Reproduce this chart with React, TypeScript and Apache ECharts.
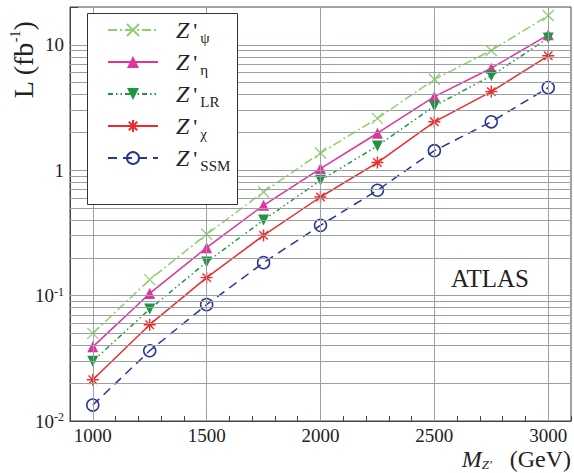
import React, { useEffect, useRef } from 'react';
import * as echarts from 'echarts';

// ---- data ----
const masses = [1000, 1250, 1500, 1750, 2000, 2250, 2500, 2750, 3000];
const zPsi = [0.05, 0.134, 0.308, 0.67, 1.37, 2.59, 5.3, 9.0, 17.1];
const zEta = [0.039, 0.104, 0.241, 0.525, 1.03, 1.97, 3.86, 6.5, 12.0];
const zLR = [0.03, 0.078, 0.185, 0.4, 0.83, 1.56, 3.25, 5.65, 11.3];
const zChi = [0.0213, 0.0586, 0.139, 0.302, 0.611, 1.15, 2.43, 4.23, 8.17];
const zSSM = [0.0134, 0.0363, 0.0847, 0.183, 0.363, 0.692, 1.43, 2.43, 4.55];

const seriesNames = ["Z'ψ", "Z'η", "Z'LR", "Z'χ", "Z'SSM"];
const seriesSubs = ['ψ', 'η', 'LR', 'χ', 'SSM'];

const xGridValues = [1000, 1500, 2000, 2500, 3000];
const yGridValues = [
  0.02, 0.03, 0.04, 0.05, 0.06, 0.07, 0.08, 0.09, 0.1,
  0.2, 0.3, 0.4, 0.5, 0.6, 0.7, 0.8, 0.9, 1,
  2, 3, 4, 5, 6, 7, 8, 9, 10,
];

const FONT = 'Liberation Serif';
const GRID_COLOR = '#9aa0a6';
const AXIS_COLOR = '#444';
const TEXT = '#222';

const CROSS = 'path://M0,0L10,10M10,0L0,10';
const STAR = 'path://M5,0L5,10M0,5L10,5M1.5,1.5L8.5,8.5M8.5,1.5L1.5,8.5';

function pairs(ys: number[]) {
  return masses.map((m, i) => [m, ys[i]]);
}

export default function App() {
  const ref = useRef<HTMLDivElement>(null);

  useEffect(() => {
    if (!ref.current) return;
    const chart = echarts.init(ref.current, null, { renderer: 'svg' });

    const colors = {
      psi: '#8fcf6d',
      eta: '#e0339b',
      lr: '#1e9641',
      chi: '#ee2b2b',
      ssm: '#2b3592',
    };

    const subRich = {
      z: { fontFamily: FONT, fontStyle: 'italic', fontSize: 24, lineHeight: 30, color: TEXT, padding: [0, 0, 0, 13] },
      p: { fontFamily: FONT, fontSize: 22, lineHeight: 30, color: TEXT, padding: [0, 3, 0, 4] },
      s: { fontFamily: FONT, fontSize: 15, lineHeight: 14, color: TEXT, verticalAlign: 'bottom' },
    };

    const option: any = {
      animation: false,
      backgroundColor: '#fff',
      textStyle: { fontFamily: FONT },
      grid: {
        left: 70,
        right: 3,
        top: 7,
        bottom: 52,
        show: true,
        borderColor: AXIS_COLOR,
        borderWidth: 1,
      },
      xAxis: {
        type: 'value',
        min: 900,
        max: 3100,
        interval: 100,
        axisLine: { show: true, lineStyle: { color: AXIS_COLOR } },
        axisTick: { show: true, inside: true, length: 5, lineStyle: { color: AXIS_COLOR } },
        splitLine: { show: false },
        axisLabel: {
          margin: 5,
          fontFamily: FONT,
          fontSize: 19,
          lineHeight: 19,
          color: TEXT,
          formatter: (v: number) => (v % 500 === 0 ? String(v) : ''),
        },
      },
      yAxis: {
        type: 'log',
        logBase: 10,
        min: 0.01,
        max: 20,
        axisLine: { show: true, lineStyle: { color: AXIS_COLOR } },
        axisTick: { show: true, inside: true, length: 8, lineStyle: { color: AXIS_COLOR } },
        splitLine: { show: false },
        axisLabel: {
          margin: 6,
          fontFamily: FONT,
          fontSize: 19,
          color: TEXT,
          formatter: (v: number) => {
            const l = Math.log10(v);
            if (Math.abs(l - Math.round(l)) > 1e-6) return '';
            const e = Math.round(l);
            if (e === 0) return '1';
            if (e === 1) return '10';
            return '{b|10}{sup|' + e + '}';
          },
          rich: {
            b: { fontFamily: FONT, fontSize: 19, lineHeight: 20, color: TEXT },
            sup: { fontFamily: FONT, fontSize: 12, verticalAlign: 'top', lineHeight: 12, color: TEXT },
          },
        },
      },
      legend: {
        show: true,
        orient: 'vertical',
        left: 107,
        top: 18,
        itemWidth: 50,
        itemHeight: 15,
        itemGap: 5,
        padding: 0,
        z: 20,
        selectedMode: false,
        data: seriesNames,
        formatter: (name: string) => {
          const i = seriesNames.indexOf(name);
          return "{z|Z}{p|'}{s|" + seriesSubs[i] + '}';
        },
        textStyle: { fontFamily: FONT, rich: subRich },
      },
      graphic: [
        {
          type: 'rect',
          z: 10,
          shape: { x: 87.5, y: 13.5, width: 150, height: 191 },
          style: { fill: '#fff', stroke: '#333', lineWidth: 1 },
        },
        {
          type: 'text',
          z: 10,
          x: 490,
          y: 278,
          style: {
            text: 'ATLAS',
            fontFamily: FONT,
            fontSize: 25,
            fill: TEXT,
            align: 'center',
            verticalAlign: 'middle',
          },
        },
        {
          type: 'text',
          z: 10,
          x: 23,
          y: 60,
          rotation: Math.PI / 2,
          style: {
            text: '{b|L (fb}{sup|-1}{b|)}',
            fontFamily: FONT,
            fontSize: 28,
            fill: TEXT,
            align: 'center',
            verticalAlign: 'middle',
            rich: {
              b: { fontFamily: FONT, fontSize: 28, lineHeight: 30, fill: TEXT },
              sup: { fontFamily: FONT, fontSize: 14, verticalAlign: 'top', lineHeight: 14, fill: TEXT },
            },
          },
        },
        {
          type: 'text',
          z: 10,
          x: 571,
          y: 459,
          style: {
            text: '{m|M}{s|Z\'}{g|   (GeV)}',
            align: 'right',
            verticalAlign: 'middle',
            rich: {
              m: { fontFamily: FONT, fontStyle: 'italic', fontSize: 24, lineHeight: 24, fill: TEXT },
              s: { fontFamily: FONT, fontStyle: 'italic', fontSize: 13, lineHeight: 12, verticalAlign: 'bottom', fill: TEXT },
              g: { fontFamily: FONT, fontSize: 24, lineHeight: 24, fill: TEXT },
            },
          },
        },
      ],
      series: [
        {
          name: 'grid',
          type: 'line',
          z: 1,
          data: [[1000, 1]],
          symbol: 'none',
          lineStyle: { opacity: 0 },
          silent: true,
          markLine: {
            silent: true,
            animation: false,
            symbol: ['none', 'none'],
            label: { show: false },
            lineStyle: { type: 'solid', color: GRID_COLOR, width: 1 },
            emphasis: { disabled: true },
            data: [
              ...xGridValues.map((v) => ({ xAxis: v })),
              ...yGridValues.map((v) => ({ yAxis: v })),
            ],
          },
        },
        {
          name: seriesNames[0],
          type: 'line',
          z: 3,
          data: pairs(zPsi),
          symbol: CROSS,
          symbolSize: 11,
          color: colors.psi,
          itemStyle: { color: colors.psi, borderColor: colors.psi, borderWidth: 1.3 },
          lineStyle: { color: colors.psi, width: 1.5, type: [9, 3, 2, 3] },
        },
        {
          name: seriesNames[1],
          type: 'line',
          z: 3,
          data: pairs(zEta),
          symbol: 'triangle',
          symbolSize: 11,
          color: colors.eta,
          itemStyle: { color: colors.eta },
          lineStyle: { color: colors.eta, width: 1.5, type: 'solid' },
        },
        {
          name: seriesNames[2],
          type: 'line',
          z: 3,
          data: pairs(zLR),
          symbol: 'triangle',
          symbolRotate: 180,
          symbolSize: 11,
          color: colors.lr,
          itemStyle: { color: colors.lr },
          lineStyle: { color: colors.lr, width: 1.5, type: [5, 3, 1.5, 3, 1.5, 3] },
        },
        {
          name: seriesNames[3],
          type: 'line',
          z: 3,
          data: pairs(zChi),
          symbol: STAR,
          symbolSize: 12,
          color: colors.chi,
          itemStyle: { color: colors.chi, borderColor: colors.chi, borderWidth: 1.4 },
          lineStyle: { color: colors.chi, width: 1.5, type: 'solid' },
        },
        {
          name: seriesNames[4],
          type: 'line',
          z: 3,
          data: pairs(zSSM),
          symbol: 'circle',
          symbolSize: 12,
          color: colors.ssm,
          itemStyle: { color: 'rgba(0,0,0,0)', borderColor: colors.ssm, borderWidth: 1.5 },
          lineStyle: { color: colors.ssm, width: 1.5, type: [9, 6] },
        },
      ],
    };

    chart.setOption(option);
    return () => chart.dispose();
  }, []);

  return (
    <div
      ref={ref}
      style={{ position: 'absolute', left: 0, top: 0, width: 574, height: 473, background: '#fff' }}
    />
  );
}
